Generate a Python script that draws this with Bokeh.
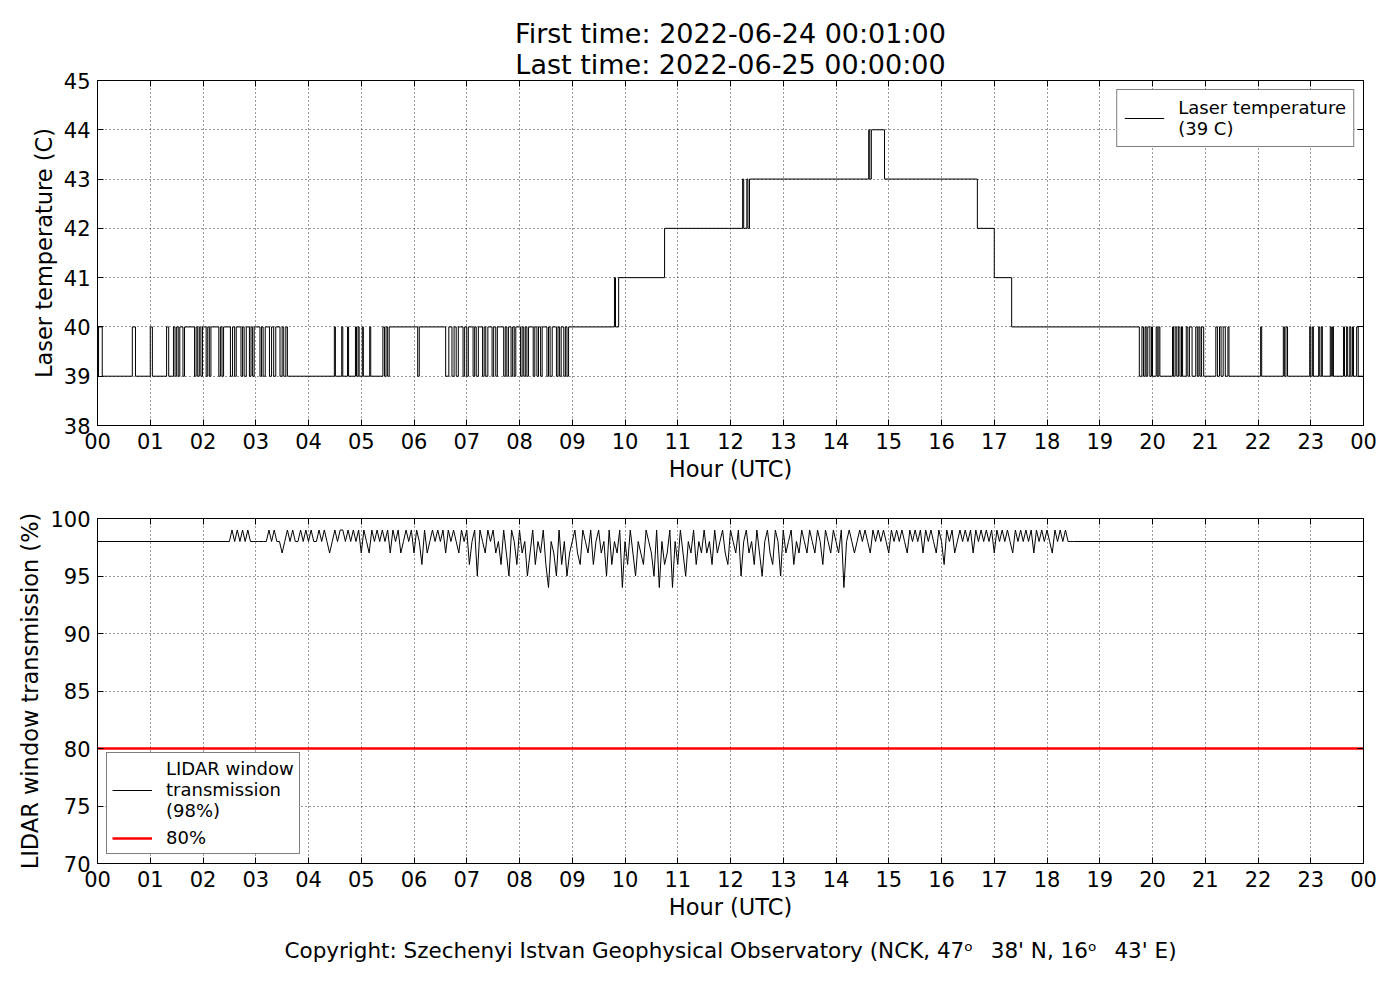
from bokeh.plotting import figure
from bokeh.models import FixedTicker, LinearAxis, Title, Range1d, CustomJSTickFormatter
from bokeh.layouts import column
from bokeh.embed import file_html
from bokeh.resources import INLINE

FONT = "DejaVu Sans"

# ---------------- data ----------------
hour_ticks = list(range(25))
hour_tick_labels = ["00", "01", "02", "03", "04", "05", "06", "07", "08", "09", "10", "11",
                    "12", "13", "14", "15", "16", "17", "18", "19", "20", "21", "22", "23", "00"]
temp_ticks = [38, 39, 40, 41, 42, 43, 44, 45]
trans_ticks = [70, 75, 80, 85, 90, 95, 100]

title_first = "First time: 2022-06-24 00:01:00"
title_last = "Last time: 2022-06-25 00:00:00"
copyright_text = "Copyright: Szechenyi Istvan Geophysical Observatory (NCK, 47\u1d52\u2002 38' N, 16\u1d52\u2002 43' E)"

# Laser temperature: baseline 39 C, intervals (start, end) in hours at 40 C (morning)
temp40_morning = [
    (0.02, 0.09), (0.66, 0.72), (1.00, 1.04), (1.31, 1.35), (1.44, 1.47), (1.50, 1.53),
    (1.56, 1.62), (1.65, 1.84), (1.87, 1.90), (1.93, 1.96), (1.99, 2.06), (2.09, 2.12),
    (2.15, 2.30), (2.33, 2.36), (2.39, 2.52), (2.56, 2.60), (2.63, 2.72), (2.75, 2.78),
    (2.82, 2.88), (2.91, 2.94), (2.97, 3.08), (3.11, 3.14), (3.18, 3.26), (3.30, 3.34),
    (3.38, 3.46), (3.50, 3.53), (3.57, 3.60),
    (4.49, 4.51), (4.63, 4.65), (4.74, 4.76), (4.89, 4.91), (4.94, 4.96), (5.02, 5.04),
    (5.16, 5.18), (5.41, 5.44), (5.47, 5.50), (5.53, 6.07), (6.10, 6.60),
    (6.66, 6.72), (6.76, 6.80), (6.84, 6.93), (6.96, 7.00), (7.03, 7.12), (7.15, 7.18),
    (7.22, 7.30), (7.33, 7.36), (7.40, 7.48), (7.51, 7.55), (7.58, 7.70), (7.73, 7.76),
    (7.79, 7.84), (7.87, 7.90), (7.93, 8.02), (8.05, 8.08), (8.11, 8.14), (8.17, 8.26),
    (8.29, 8.33), (8.36, 8.40), (8.43, 8.52), (8.55, 8.58), (8.62, 8.70), (8.73, 8.76),
    (8.79, 8.84), (8.87, 8.90),
]
# daytime plateau: change points (hour, temperature)
temp_day_hours = [8.93, 9.80, 9.82, 9.88, 10.75, 12.23, 12.25, 12.31, 12.33, 12.36,
                  14.62, 14.64, 14.67, 14.92, 16.68, 17.00, 17.33, 19.75]
temp_day_values = [40, 41, 40, 41, 42, 43, 42, 43, 42, 43,
                   44, 43, 44, 43, 42, 41, 40, 39]
# evening intervals at 40 C
temp40_evening = [
    (19.80, 19.83), (19.86, 19.88), (19.91, 19.95), (19.98, 20.00), (20.07, 20.09),
    (20.12, 20.14), (20.38, 20.40), (20.43, 20.46), (20.49, 20.52), (20.55, 20.57),
    (20.64, 20.67), (20.70, 20.75), (20.82, 20.85), (20.88, 20.90), (20.93, 20.97),
    (21.20, 21.23), (21.27, 21.30), (21.34, 21.38), (21.43, 21.45), (22.05, 22.07),
    (22.48, 22.50), (22.53, 22.56), (22.98, 23.00), (23.03, 23.05), (23.15, 23.17),
    (23.20, 23.22), (23.37, 23.39), (23.41, 23.43), (23.62, 23.64), (23.68, 23.70),
    (23.74, 23.76), (23.79, 23.81), (23.87, 23.90),
]
temp_base = 39

# LIDAR window transmission (%): flat 98 outside 02:30-18:30, samples every 3 min inside
trans_base = 98
trans_start_hour = 2.5
trans_step_hours = 0.05
trans_values = [
    98, 99, 98, 99, 98, 99, 98, 99, 98, 98, 98, 98, 98, 98, 98, 99, 98, 99, 98, 98,
    97, 98, 99, 98, 99, 98, 98, 99, 98, 99, 98, 99, 98, 98, 99, 98, 99, 98, 97, 98,
    99, 98, 99, 99, 98, 99, 98, 99, 98, 99, 97, 99, 98, 97, 99, 98, 99, 98, 99, 98,
    99, 97, 99, 98, 99, 97, 98, 99, 98, 99, 97, 99, 98, 96, 99, 97, 98, 99, 98, 99,
    98, 99, 97, 99, 98, 99, 98, 97, 99, 98, 99, 96, 98, 99, 95, 99, 98, 97, 99, 98,
    99, 97, 98, 96, 99, 97, 95, 99, 98, 96, 99, 97, 98, 95, 97, 99, 96, 98, 97, 99,
    96, 94, 98, 97, 95, 99, 96, 98, 95, 97, 98, 99, 97, 96, 99, 98, 97, 99, 96, 98,
    99, 97, 98, 95, 99, 96, 98, 97, 99, 94, 98, 96, 99, 97, 95, 98, 97, 96, 99, 98,
    97, 95, 99, 94, 98, 96, 97, 99, 94, 98, 96, 99, 97, 95, 98, 97, 99, 96, 98, 97,
    99, 97, 98, 96, 99, 97, 98, 99, 97, 96, 99, 98, 97, 99, 95, 98, 99, 97, 98, 96,
    99, 97, 95, 98, 99, 97, 96, 99, 98, 95, 99, 97, 98, 99, 96, 98, 97, 99, 98, 97,
    99, 98, 97, 99, 98, 96, 99, 98, 97, 99, 98, 97, 99, 94, 98, 99, 98, 97, 98, 99,
    98, 99, 98, 97, 99, 98, 99, 98, 99, 98, 97, 99, 98, 99, 98, 99, 98, 97, 99, 98,
    99, 98, 99, 97, 99, 98, 99, 98, 97, 99, 98, 96, 99, 98, 99, 97, 98, 99, 98, 99,
    98, 99, 97, 99, 98, 99, 98, 99, 98, 99, 97, 99, 98, 99, 98, 99, 98, 97, 99, 98,
    99, 98, 99, 98, 99, 97, 99, 98, 99, 98, 99, 98, 97, 99, 98, 99, 98, 99, 98, 98,
]
threshold = 80

# ---------------- build series ----------------
temp_x = [0.0]
temp_y = [temp_base]
for a, b in temp40_morning:
    temp_x += [a, b]
    temp_y += [40, temp_base]
for h, v in zip(temp_day_hours, temp_day_values):
    temp_x.append(h)
    temp_y.append(v)
for a, b in temp40_evening:
    temp_x += [a, b]
    temp_y += [40, temp_base]
temp_x.append(24.0)
temp_y.append(temp_base)

trans_x = [0.0] + [trans_start_hour + i * trans_step_hours for i in range(len(trans_values))]
trans_y = [trans_base] + trans_values
trans_x += [trans_start_hour + len(trans_values) * trans_step_hours, 24.0]
trans_y += [trans_base, trans_base]

label_map = {t: l for t, l in zip(hour_ticks, hour_tick_labels)}


def style(p, yticks):
    p.outline_line_color = "black"
    p.outline_line_width = 1
    p.background_fill_color = "white"
    p.border_fill_color = "white"
    p.xaxis.ticker = FixedTicker(ticks=hour_ticks)
    p.xaxis.major_label_overrides = label_map
    p.yaxis.ticker = FixedTicker(ticks=yticks)
    for ax in [p.xaxis[0], p.yaxis[0]]:
        ax.axis_line_color = "black"
        ax.major_tick_in = 6
        ax.major_tick_out = 0
        ax.minor_tick_line_color = None
        ax.major_tick_line_color = "black"
        ax.major_label_text_font = FONT
        ax.major_label_text_font_size = "21px"
        ax.major_label_text_color = "black"
        ax.major_label_standoff = 7
        ax.axis_label_text_font = FONT
        ax.axis_label_text_font_size = "22.5px"
        ax.axis_label_text_font_style = "normal"
        ax.axis_label_text_color = "black"
        ax.axis_label_standoff = 4
    for g, t in [(p.xgrid[0], hour_ticks), (p.ygrid[0], yticks)]:
        g.ticker = FixedTicker(ticks=t)
        g.grid_line_color = "black"
        g.grid_line_alpha = 0.8
        g.grid_line_dash = "1 3"
        g.grid_line_width = 1
    empty = CustomJSTickFormatter(code="return ''")
    top = LinearAxis(ticker=FixedTicker(ticks=hour_ticks), formatter=empty,
                     major_tick_in=6, major_tick_out=0, minor_tick_line_color=None,
                     axis_line_color="black", major_label_text_font_size="1px",
                     major_label_standoff=0)
    right = LinearAxis(ticker=FixedTicker(ticks=yticks), formatter=empty,
                       major_tick_in=6, major_tick_out=0, minor_tick_line_color=None,
                       axis_line_color="black", major_label_text_font_size="1px",
                       major_label_standoff=0)
    p.add_layout(top, "above")
    p.add_layout(right, "right")


def style_legend(p, loc, padding):
    lg = p.legend[0]
    lg.location = loc
    lg.border_line_color = "black"
    lg.border_line_width = 1
    lg.background_fill_color = "white"
    lg.background_fill_alpha = 1
    lg.label_text_font = FONT
    lg.label_text_font_size = "18px"
    lg.label_text_color = "black"
    lg.glyph_width = 40
    lg.label_standoff = 14
    lg.margin = 9
    lg.padding = padding
    lg.spacing = 6


# ---------------- top figure ----------------
p1 = figure(frame_width=1266, frame_height=345, x_range=Range1d(0, 24), y_range=Range1d(38, 45),
            output_backend="svg", toolbar_location=None,
            min_border_left=97, min_border_right=29, min_border_top=80, min_border_bottom=63)
p1.step(temp_x, temp_y, mode="after", line_color="black", line_width=1,
        legend_label="Laser temperature\n(39 C)")
p1.xaxis.axis_label = "Hour (UTC)"
p1.yaxis.axis_label = "Laser temperature (C)"
style(p1, temp_ticks)
style_legend(p1, "top_right", 7)
p1.add_layout(Title(text=title_last, align="center", text_font=FONT, text_font_size="27px",
                    text_font_style="normal", text_color="black", standoff=1), "above")
p1.add_layout(Title(text=title_first, align="center", text_font=FONT, text_font_size="27px",
                    text_font_style="normal", text_color="black", standoff=-4), "above")

# ---------------- bottom figure ----------------
p2 = figure(frame_width=1266, frame_height=345, x_range=Range1d(0, 24), y_range=Range1d(70, 100),
            output_backend="svg", toolbar_location=None,
            min_border_left=97, min_border_right=29, min_border_top=30, min_border_bottom=115)
p2.line(trans_x, trans_y, line_color="black", line_width=1,
        legend_label="LIDAR window\ntransmission\n(98%)")
p2.line([0, 24], [threshold, threshold], line_color="red", line_width=2.5, legend_label="80%")
p2.xaxis.axis_label = "Hour (UTC)"
p2.yaxis.axis_label = "LIDAR window transmission (%)"
style(p2, trans_ticks)
style_legend(p2, "bottom_left", 5)
p2.add_layout(Title(text=copyright_text, align="center", text_font=FONT, text_font_size="21.5px",
                    text_font_style="normal", text_color="black", standoff=27), "below")

layout = column(p1, p2, spacing=0)
open("out.html", "w").write(file_html(layout, INLINE))
